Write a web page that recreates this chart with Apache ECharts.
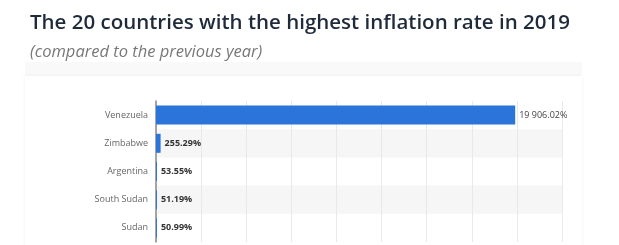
<!DOCTYPE html>
<html><head><meta charset="utf-8">
<script src="https://cdn.jsdelivr.net/npm/echarts@6/dist/echarts.min.js"></script>
<style>html,body{margin:0;padding:0;background:#fff;}#c{width:619px;height:245px;}</style>
</head><body><div id="c"></div>
<script>
const titleText = "The 20 countries with the highest inflation rate in 2019";
const subtitleText = "(compared to the previous year)";
const countries = ["Venezuela", "Zimbabwe", "Argentina", "South Sudan", "Sudan"];
const inflation = [19906.02, 255.29, 53.55, 51.19, 50.99];
const valueLabels = ["19 906.02%", "255.29%", "53.55%", "51.19%", "50.99%"];

const chart = echarts.init(document.getElementById('c'), null, {renderer: 'canvas'});
chart.setOption({
  animation: false,
  backgroundColor: '#fff',
  graphic: [
    {type: 'rect', shape: {x: 25, y: 62, width: 557, height: 16}, style: {fill: '#f9f9f9'}, z: -10},
    {type: 'rect', shape: {x: 25, y: 76, width: 557, height: 175}, style: {fill: '#fff', shadowBlur: 4, shadowColor: 'rgba(0,0,0,0.05)'}, z: -9}
  ],
  title: {
    text: titleText,
    subtext: subtitleText,
    left: 30, top: 13, itemGap: 10, padding: 0,
    textStyle: {fontFamily: 'Open Sans', fontSize: 20.5, fontWeight: 600, color: '#1f2b3a'},
    subtextStyle: {fontFamily: 'Open Sans', fontSize: 16.5, fontStyle: 'italic', color: '#787878'}
  },
  grid: {left: 156, right: 57, top: 101, bottom: 3, containLabel: false},
  xAxis: {
    type: 'value', min: 0, max: 22500, interval: 2500,
    axisLabel: {show: false}, axisLine: {show: false}, axisTick: {show: false},
    splitLine: {show: true, lineStyle: {color: '#e9e9e9', width: 1}}
  },
  yAxis: {
    type: 'category', data: countries, inverse: true,
    axisLine: {show: true, lineStyle: {color: '#8a8a8a', width: 1.5}},
    axisTick: {show: false},
    axisLabel: {fontFamily: 'Open Sans', fontSize: 9, color: '#666', margin: 8},
    splitArea: {show: true, areaStyle: {color: ['rgba(0,0,0,0)', '#f6f6f6']}}
  },
  series: [{
    type: 'bar',
    data: inflation.map((v, i) => i === 0 ? {value: v, label: {fontWeight: 'normal', color: '#444'}} : v),
    barWidth: 19,
    itemStyle: {color: '#2a74da'},
    label: {
      show: true, position: 'right', distance: 4,
      fontFamily: 'Open Sans', fontSize: 9, fontWeight: 'bold', color: '#333',
      formatter: p => valueLabels[p.dataIndex]
    }
  }]
});
</script></body></html>
